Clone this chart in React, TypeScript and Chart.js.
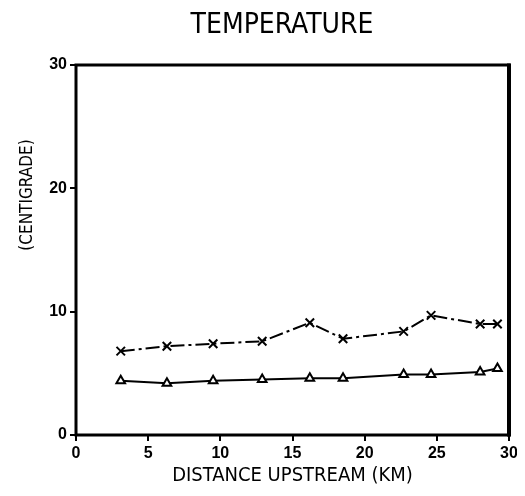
import React, { useEffect, useRef } from "react";
import { Chart, registerables } from "chart.js";

Chart.register(...registerables);

// ---- data ----
const distanceKm = [3.1, 6.3, 9.5, 12.9, 16.2, 18.5, 22.7, 24.6, 28.0, 29.2];
const crossTemps = [6.8, 7.2, 7.4, 7.6, 9.1, 7.8, 8.4, 9.7, 9.0, 9.0];
const triangleTemps = [4.4, 4.2, 4.4, 4.5, 4.6, 4.6, 4.9, 4.9, 5.1, 5.4];
const xTickValues = [0, 5, 10, 15, 20, 25, 30];
const yTickValues = [0, 10, 20, 30];
const chartTitle = "TEMPERATURE";
const xAxisTitle = "DISTANCE UPSTREAM (KM)";
const yAxisTitle = "(CENTIGRADE)";

const NARROW = '"Liberation Sans Narrow", "DejaVu Sans Condensed", "Liberation Sans", sans-serif';
const TICKFONT = '"Liberation Sans", "DejaVu Sans", sans-serif';

const framePlugin = {
  id: "frameAndTitles",
  afterDraw(chart: any) {
    const { ctx, chartArea } = chart;
    const { left, right, top, bottom } = chartArea;
    ctx.save();
    ctx.strokeStyle = "#000";
    ctx.lineWidth = 3;
    ctx.strokeRect(left, top, right - left, bottom - top);
    ctx.lineWidth = 4;
    ctx.beginPath();
    ctx.moveTo(right, top - 1.5);
    ctx.lineTo(right, bottom + 1.5);
    ctx.stroke();

    // main title
    ctx.fillStyle = "#000";
    ctx.font = `28px ${NARROW}`;
    ctx.textAlign = "center";
    ctx.textBaseline = "alphabetic";
    ctx.fillText(chartTitle, 274, 25);

    // y axis title
    ctx.translate(24, 187);
    ctx.rotate(-Math.PI / 2);
    ctx.font = `17px ${NARROW}`;
    ctx.textAlign = "center";
    ctx.textBaseline = "alphabetic";
    ctx.fillText(yAxisTitle, 0, 0);
    ctx.restore();
  },
};

export default function App() {
  const canvasRef = useRef<HTMLCanvasElement | null>(null);

  useEffect(() => {
    const canvas = canvasRef.current;
    if (!canvas) return;
    const crossData = distanceKm.map((x, i) => ({ x, y: crossTemps[i] }));
    const triData = distanceKm.map((x, i) => ({ x, y: triangleTemps[i] }));

    const chart = new Chart(canvas, {
      type: "line",
      data: {
        datasets: [
          {
            label: "cross",
            data: crossData,
            borderColor: "#000",
            backgroundColor: "#000",
            borderWidth: 2,
            borderDash: [14, 4, 3, 4],
            pointStyle: "crossRot",
            pointRadius: 6,
            pointBorderWidth: 2,
            pointBorderColor: "#000",
            tension: 0,
          },
          {
            label: "triangle",
            data: triData,
            borderColor: "#000",
            backgroundColor: "#fff",
            borderWidth: 2,
            pointStyle: "triangle",
            pointRadius: 5,
            pointBorderWidth: 2,
            pointBorderColor: "#000",
            pointBackgroundColor: "#fff",
            tension: 0,
          },
        ],
      },
      options: {
        animation: false,
        responsive: false,
        maintainAspectRatio: false,
        layout: { padding: { top: 57, left: 0, right: 8, bottom: 0 } },
        plugins: {
          legend: { display: false },
          tooltip: { enabled: false },
          title: { display: false },
        },
        scales: {
          x: {
            type: "linear",
            min: 0,
            max: 30,
            afterBuildTicks: (s: any) => {
              s.ticks = xTickValues.map((v) => ({ value: v }));
            },
            ticks: {
              color: "#000",
              font: { family: TICKFONT, size: 16, weight: "bold" },
              padding: 3,
              maxRotation: 0,
              autoSkip: false,
            },
            grid: {
              display: true,
              drawOnChartArea: false,
              drawTicks: true,
              tickLength: 6,
              color: "#000",
              lineWidth: 2,
            },
            border: { display: false },
            title: {
              display: true,
              text: xAxisTitle,
              color: "#000",
              font: { family: NARROW, size: 20 },
              padding: { top: 0, bottom: 0 },
            },
            afterFit: (s: any) => {
              s.height = 53;
              s.paddingLeft = 0;
              s.paddingRight = 0;
            },
          },
          y: {
            type: "linear",
            min: 0,
            max: 30,
            afterBuildTicks: (s: any) => {
              s.ticks = yTickValues.map((v) => ({ value: v }));
            },
            ticks: {
              color: "#000",
              font: { family: TICKFONT, size: 16, weight: "bold" },
              padding: 3,
              autoSkip: false,
            },
            grid: {
              display: true,
              drawOnChartArea: false,
              drawTicks: true,
              tickLength: 6,
              color: "#000",
              lineWidth: 2,
            },
            border: { display: false },
            afterFit: (s: any) => {
              s.width = 68;
              s.paddingTop = 0;
              s.paddingBottom = 0;
            },
          },
        },
      },
      plugins: [framePlugin],
    } as any);

    return () => chart.destroy();
  }, []);

  return (
    <canvas
      ref={canvasRef}
      width={509}
      height={480}
      style={{ display: "block", width: 509, height: 480 }}
    />
  );
}
